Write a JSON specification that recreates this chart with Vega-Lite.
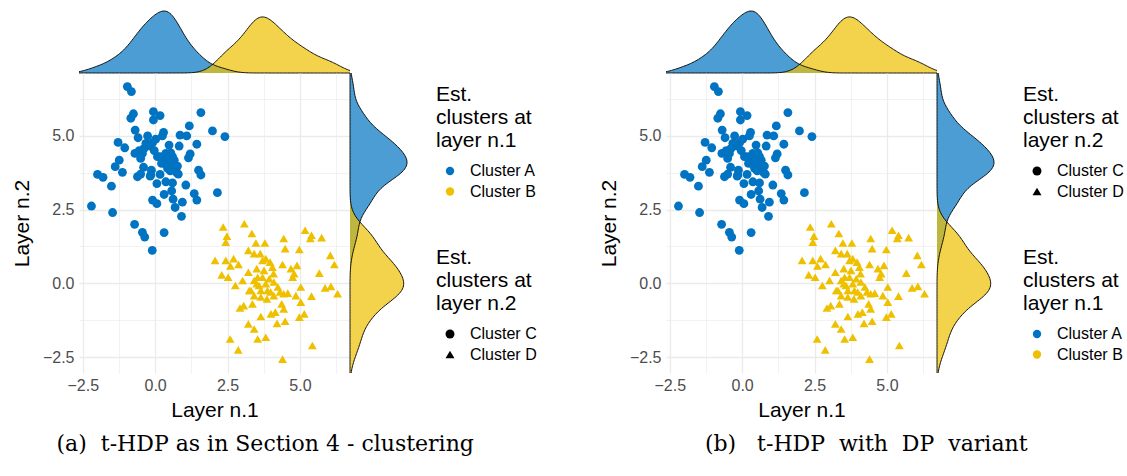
{
  "$schema": "https://vega.github.io/schema/vega-lite/v6.json",
  "padding": {"left": 11, "top": 9, "right": 2, "bottom": 4},
  "datasets": {
    "pts": [
      {"x": -0.96, "y": 6.66, "l1": "Cluster A", "l2": "Cluster C"},
      {"x": -0.82, "y": 6.49, "l1": "Cluster A", "l2": "Cluster C"},
      {"x": -0.75, "y": 5.74, "l1": "Cluster A", "l2": "Cluster C"},
      {"x": -0.84, "y": 5.59, "l1": "Cluster A", "l2": "Cluster C"},
      {"x": -0.06, "y": 5.81, "l1": "Cluster A", "l2": "Cluster C"},
      {"x": 0.17, "y": 5.68, "l1": "Cluster A", "l2": "Cluster C"},
      {"x": -0.06, "y": 5.53, "l1": "Cluster A", "l2": "Cluster C"},
      {"x": 1.58, "y": 5.78, "l1": "Cluster A", "l2": "Cluster C"},
      {"x": 1.18, "y": 5.33, "l1": "Cluster A", "l2": "Cluster C"},
      {"x": 0.86, "y": 5.02, "l1": "Cluster A", "l2": "Cluster C"},
      {"x": 1.09, "y": 4.99, "l1": "Cluster A", "l2": "Cluster C"},
      {"x": 1.98, "y": 5.16, "l1": "Cluster A", "l2": "Cluster C"},
      {"x": 2.41, "y": 4.97, "l1": "Cluster A", "l2": "Cluster C"},
      {"x": -0.69, "y": 5.19, "l1": "Cluster A", "l2": "Cluster C"},
      {"x": -0.59, "y": 4.93, "l1": "Cluster A", "l2": "Cluster C"},
      {"x": -0.26, "y": 4.99, "l1": "Cluster A", "l2": "Cluster C"},
      {"x": 0.29, "y": 5.11, "l1": "Cluster A", "l2": "Cluster C"},
      {"x": 0.25, "y": 4.99, "l1": "Cluster A", "l2": "Cluster C"},
      {"x": 0.02, "y": 4.88, "l1": "Cluster A", "l2": "Cluster C"},
      {"x": -1.28, "y": 4.77, "l1": "Cluster A", "l2": "Cluster C"},
      {"x": -1.05, "y": 4.59, "l1": "Cluster A", "l2": "Cluster C"},
      {"x": -0.38, "y": 4.57, "l1": "Cluster A", "l2": "Cluster C"},
      {"x": -0.17, "y": 4.65, "l1": "Cluster A", "l2": "Cluster C"},
      {"x": -0.09, "y": 4.76, "l1": "Cluster A", "l2": "Cluster C"},
      {"x": 0.48, "y": 4.68, "l1": "Cluster A", "l2": "Cluster C"},
      {"x": 0.83, "y": 4.65, "l1": "Cluster A", "l2": "Cluster C"},
      {"x": 1.44, "y": 4.71, "l1": "Cluster A", "l2": "Cluster C"},
      {"x": -0.70, "y": 4.40, "l1": "Cluster A", "l2": "Cluster C"},
      {"x": -0.50, "y": 4.23, "l1": "Cluster A", "l2": "Cluster C"},
      {"x": 0.17, "y": 4.29, "l1": "Cluster A", "l2": "Cluster C"},
      {"x": 0.37, "y": 4.40, "l1": "Cluster A", "l2": "Cluster C"},
      {"x": 0.60, "y": 4.29, "l1": "Cluster A", "l2": "Cluster C"},
      {"x": 1.21, "y": 4.38, "l1": "Cluster A", "l2": "Cluster C"},
      {"x": 1.15, "y": 4.25, "l1": "Cluster A", "l2": "Cluster C"},
      {"x": -1.24, "y": 4.17, "l1": "Cluster A", "l2": "Cluster C"},
      {"x": -1.38, "y": 3.95, "l1": "Cluster A", "l2": "Cluster C"},
      {"x": -1.13, "y": 3.76, "l1": "Cluster A", "l2": "Cluster C"},
      {"x": -0.40, "y": 3.93, "l1": "Cluster A", "l2": "Cluster C"},
      {"x": -0.13, "y": 3.83, "l1": "Cluster A", "l2": "Cluster C"},
      {"x": 0.31, "y": 4.12, "l1": "Cluster A", "l2": "Cluster C"},
      {"x": 0.48, "y": 4.00, "l1": "Cluster A", "l2": "Cluster C"},
      {"x": 0.66, "y": 4.17, "l1": "Cluster A", "l2": "Cluster C"},
      {"x": 0.77, "y": 3.97, "l1": "Cluster A", "l2": "Cluster C"},
      {"x": 0.52, "y": 3.81, "l1": "Cluster A", "l2": "Cluster C"},
      {"x": 0.75, "y": 3.74, "l1": "Cluster A", "l2": "Cluster C"},
      {"x": -1.99, "y": 3.69, "l1": "Cluster A", "l2": "Cluster C"},
      {"x": -1.80, "y": 3.59, "l1": "Cluster A", "l2": "Cluster C"},
      {"x": -1.51, "y": 3.29, "l1": "Cluster A", "l2": "Cluster C"},
      {"x": -0.61, "y": 3.61, "l1": "Cluster A", "l2": "Cluster C"},
      {"x": -0.50, "y": 3.70, "l1": "Cluster A", "l2": "Cluster C"},
      {"x": -0.15, "y": 3.67, "l1": "Cluster A", "l2": "Cluster C"},
      {"x": 0.17, "y": 3.69, "l1": "Cluster A", "l2": "Cluster C"},
      {"x": 0.06, "y": 3.38, "l1": "Cluster A", "l2": "Cluster C"},
      {"x": 0.37, "y": 3.44, "l1": "Cluster A", "l2": "Cluster C"},
      {"x": 0.60, "y": 3.40, "l1": "Cluster A", "l2": "Cluster C"},
      {"x": 1.50, "y": 3.83, "l1": "Cluster A", "l2": "Cluster C"},
      {"x": 1.58, "y": 3.67, "l1": "Cluster A", "l2": "Cluster C"},
      {"x": 1.06, "y": 3.33, "l1": "Cluster A", "l2": "Cluster C"},
      {"x": 0.57, "y": 3.13, "l1": "Cluster A", "l2": "Cluster C"},
      {"x": 0.31, "y": 3.01, "l1": "Cluster A", "l2": "Cluster C"},
      {"x": 1.35, "y": 3.04, "l1": "Cluster A", "l2": "Cluster C"},
      {"x": 1.44, "y": 2.82, "l1": "Cluster A", "l2": "Cluster C"},
      {"x": 2.15, "y": 3.07, "l1": "Cluster A", "l2": "Cluster C"},
      {"x": -2.20, "y": 2.62, "l1": "Cluster A", "l2": "Cluster C"},
      {"x": -0.09, "y": 2.82, "l1": "Cluster A", "l2": "Cluster C"},
      {"x": 0.06, "y": 2.70, "l1": "Cluster A", "l2": "Cluster C"},
      {"x": 0.62, "y": 2.85, "l1": "Cluster A", "l2": "Cluster C"},
      {"x": 0.94, "y": 2.75, "l1": "Cluster A", "l2": "Cluster C"},
      {"x": 0.69, "y": 2.57, "l1": "Cluster A", "l2": "Cluster C"},
      {"x": -1.47, "y": 2.40, "l1": "Cluster A", "l2": "Cluster C"},
      {"x": 0.91, "y": 2.27, "l1": "Cluster A", "l2": "Cluster C"},
      {"x": -0.71, "y": 2.00, "l1": "Cluster A", "l2": "Cluster C"},
      {"x": -0.44, "y": 1.73, "l1": "Cluster A", "l2": "Cluster C"},
      {"x": -0.36, "y": 1.57, "l1": "Cluster A", "l2": "Cluster C"},
      {"x": 0.31, "y": 1.72, "l1": "Cluster A", "l2": "Cluster C"},
      {"x": -0.10, "y": 1.12, "l1": "Cluster A", "l2": "Cluster C"},
      {"x": 0.43, "y": 4.23, "l1": "Cluster A", "l2": "Cluster C"},
      {"x": 0.54, "y": 4.12, "l1": "Cluster A", "l2": "Cluster C"},
      {"x": 0.60, "y": 3.95, "l1": "Cluster A", "l2": "Cluster C"},
      {"x": 0.43, "y": 3.89, "l1": "Cluster A", "l2": "Cluster C"},
      {"x": 0.66, "y": 4.04, "l1": "Cluster A", "l2": "Cluster C"},
      {"x": 0.37, "y": 4.04, "l1": "Cluster A", "l2": "Cluster C"},
      {"x": 0.54, "y": 4.42, "l1": "Cluster A", "l2": "Cluster C"},
      {"x": 0.22, "y": 4.06, "l1": "Cluster A", "l2": "Cluster C"},
      {"x": 0.08, "y": 4.29, "l1": "Cluster A", "l2": "Cluster C"},
      {"x": -0.03, "y": 4.49, "l1": "Cluster A", "l2": "Cluster C"},
      {"x": -0.32, "y": 4.74, "l1": "Cluster A", "l2": "Cluster C"},
      {"x": -0.44, "y": 4.40, "l1": "Cluster A", "l2": "Cluster C"},
      {"x": 0.80, "y": 3.70, "l1": "Cluster A", "l2": "Cluster C"},
      {"x": -0.17, "y": 3.63, "l1": "Cluster A", "l2": "Cluster C"},
      {"x": -0.55, "y": 4.49, "l1": "Cluster A", "l2": "Cluster C"},
      {"x": 2.35, "y": 1.91, "l1": "Cluster B", "l2": "Cluster D"},
      {"x": 3.08, "y": 2.02, "l1": "Cluster B", "l2": "Cluster D"},
      {"x": 2.48, "y": 1.60, "l1": "Cluster B", "l2": "Cluster D"},
      {"x": 2.44, "y": 1.40, "l1": "Cluster B", "l2": "Cluster D"},
      {"x": 3.34, "y": 1.69, "l1": "Cluster B", "l2": "Cluster D"},
      {"x": 3.48, "y": 1.37, "l1": "Cluster B", "l2": "Cluster D"},
      {"x": 3.79, "y": 1.37, "l1": "Cluster B", "l2": "Cluster D"},
      {"x": 4.44, "y": 1.52, "l1": "Cluster B", "l2": "Cluster D"},
      {"x": 4.49, "y": 1.18, "l1": "Cluster B", "l2": "Cluster D"},
      {"x": 5.18, "y": 1.80, "l1": "Cluster B", "l2": "Cluster D"},
      {"x": 5.40, "y": 1.63, "l1": "Cluster B", "l2": "Cluster D"},
      {"x": 5.36, "y": 1.52, "l1": "Cluster B", "l2": "Cluster D"},
      {"x": 5.75, "y": 1.55, "l1": "Cluster B", "l2": "Cluster D"},
      {"x": 4.98, "y": 1.15, "l1": "Cluster B", "l2": "Cluster D"},
      {"x": 6.05, "y": 0.95, "l1": "Cluster B", "l2": "Cluster D"},
      {"x": 6.19, "y": 0.64, "l1": "Cluster B", "l2": "Cluster D"},
      {"x": 5.67, "y": 0.35, "l1": "Cluster B", "l2": "Cluster D"},
      {"x": 5.87, "y": -0.15, "l1": "Cluster B", "l2": "Cluster D"},
      {"x": 6.07, "y": -0.10, "l1": "Cluster B", "l2": "Cluster D"},
      {"x": 6.30, "y": -0.35, "l1": "Cluster B", "l2": "Cluster D"},
      {"x": 5.40, "y": -0.43, "l1": "Cluster B", "l2": "Cluster D"},
      {"x": 2.07, "y": 0.78, "l1": "Cluster B", "l2": "Cluster D"},
      {"x": 2.44, "y": 0.78, "l1": "Cluster B", "l2": "Cluster D"},
      {"x": 2.71, "y": 0.84, "l1": "Cluster B", "l2": "Cluster D"},
      {"x": 2.88, "y": 0.64, "l1": "Cluster B", "l2": "Cluster D"},
      {"x": 2.60, "y": 0.59, "l1": "Cluster B", "l2": "Cluster D"},
      {"x": 2.30, "y": 0.29, "l1": "Cluster B", "l2": "Cluster D"},
      {"x": 2.52, "y": 0.21, "l1": "Cluster B", "l2": "Cluster D"},
      {"x": 3.22, "y": 1.12, "l1": "Cluster B", "l2": "Cluster D"},
      {"x": 3.42, "y": 1.01, "l1": "Cluster B", "l2": "Cluster D"},
      {"x": 3.63, "y": 1.01, "l1": "Cluster B", "l2": "Cluster D"},
      {"x": 3.71, "y": 0.78, "l1": "Cluster B", "l2": "Cluster D"},
      {"x": 3.97, "y": 0.72, "l1": "Cluster B", "l2": "Cluster D"},
      {"x": 3.22, "y": 0.38, "l1": "Cluster B", "l2": "Cluster D"},
      {"x": 3.51, "y": 0.50, "l1": "Cluster B", "l2": "Cluster D"},
      {"x": 3.76, "y": 0.44, "l1": "Cluster B", "l2": "Cluster D"},
      {"x": 4.09, "y": 0.33, "l1": "Cluster B", "l2": "Cluster D"},
      {"x": 4.40, "y": 0.64, "l1": "Cluster B", "l2": "Cluster D"},
      {"x": 4.69, "y": 0.50, "l1": "Cluster B", "l2": "Cluster D"},
      {"x": 4.90, "y": 0.61, "l1": "Cluster B", "l2": "Cluster D"},
      {"x": 4.75, "y": 0.21, "l1": "Cluster B", "l2": "Cluster D"},
      {"x": 4.80, "y": 0.33, "l1": "Cluster B", "l2": "Cluster D"},
      {"x": 2.77, "y": -0.07, "l1": "Cluster B", "l2": "Cluster D"},
      {"x": 3.02, "y": 0.10, "l1": "Cluster B", "l2": "Cluster D"},
      {"x": 3.42, "y": 0.10, "l1": "Cluster B", "l2": "Cluster D"},
      {"x": 3.59, "y": -0.07, "l1": "Cluster B", "l2": "Cluster D"},
      {"x": 3.82, "y": -0.01, "l1": "Cluster B", "l2": "Cluster D"},
      {"x": 4.10, "y": 0.05, "l1": "Cluster B", "l2": "Cluster D"},
      {"x": 4.31, "y": -0.29, "l1": "Cluster B", "l2": "Cluster D"},
      {"x": 4.58, "y": -0.33, "l1": "Cluster B", "l2": "Cluster D"},
      {"x": 5.03, "y": -0.12, "l1": "Cluster B", "l2": "Cluster D"},
      {"x": 4.86, "y": -0.41, "l1": "Cluster B", "l2": "Cluster D"},
      {"x": 5.03, "y": -0.63, "l1": "Cluster B", "l2": "Cluster D"},
      {"x": 3.31, "y": -0.24, "l1": "Cluster B", "l2": "Cluster D"},
      {"x": 3.42, "y": -0.41, "l1": "Cluster B", "l2": "Cluster D"},
      {"x": 3.65, "y": -0.46, "l1": "Cluster B", "l2": "Cluster D"},
      {"x": 3.86, "y": -0.52, "l1": "Cluster B", "l2": "Cluster D"},
      {"x": 3.99, "y": -0.29, "l1": "Cluster B", "l2": "Cluster D"},
      {"x": 3.36, "y": -0.69, "l1": "Cluster B", "l2": "Cluster D"},
      {"x": 2.93, "y": -0.83, "l1": "Cluster B", "l2": "Cluster D"},
      {"x": 3.06, "y": -0.75, "l1": "Cluster B", "l2": "Cluster D"},
      {"x": 4.37, "y": -0.69, "l1": "Cluster B", "l2": "Cluster D"},
      {"x": 4.44, "y": -0.86, "l1": "Cluster B", "l2": "Cluster D"},
      {"x": 4.15, "y": -0.97, "l1": "Cluster B", "l2": "Cluster D"},
      {"x": 4.00, "y": -1.03, "l1": "Cluster B", "l2": "Cluster D"},
      {"x": 3.65, "y": -1.12, "l1": "Cluster B", "l2": "Cluster D"},
      {"x": 5.15, "y": -1.03, "l1": "Cluster B", "l2": "Cluster D"},
      {"x": 4.98, "y": -1.14, "l1": "Cluster B", "l2": "Cluster D"},
      {"x": 4.21, "y": -1.35, "l1": "Cluster B", "l2": "Cluster D"},
      {"x": 4.49, "y": -1.28, "l1": "Cluster B", "l2": "Cluster D"},
      {"x": 3.22, "y": -1.37, "l1": "Cluster B", "l2": "Cluster D"},
      {"x": 3.42, "y": -1.54, "l1": "Cluster B", "l2": "Cluster D"},
      {"x": 3.54, "y": -1.88, "l1": "Cluster B", "l2": "Cluster D"},
      {"x": 3.82, "y": -1.82, "l1": "Cluster B", "l2": "Cluster D"},
      {"x": 2.59, "y": -1.88, "l1": "Cluster B", "l2": "Cluster D"},
      {"x": 2.87, "y": -2.25, "l1": "Cluster B", "l2": "Cluster D"},
      {"x": 5.43, "y": -2.10, "l1": "Cluster B", "l2": "Cluster D"},
      {"x": 4.40, "y": -2.56, "l1": "Cluster B", "l2": "Cluster D"},
      {"x": 3.71, "y": 0.21, "l1": "Cluster B", "l2": "Cluster D"},
      {"x": 3.88, "y": -0.24, "l1": "Cluster B", "l2": "Cluster D"},
      {"x": 3.54, "y": 0.21, "l1": "Cluster B", "l2": "Cluster D"},
      {"x": 3.94, "y": 0.16, "l1": "Cluster B", "l2": "Cluster D"},
      {"x": 3.65, "y": -0.24, "l1": "Cluster B", "l2": "Cluster D"},
      {"x": 4.05, "y": 0.55, "l1": "Cluster B", "l2": "Cluster D"},
      {"x": 3.82, "y": 0.84, "l1": "Cluster B", "l2": "Cluster D"},
      {"x": 4.44, "y": -0.35, "l1": "Cluster B", "l2": "Cluster D"},
      {"x": 4.24, "y": -0.12, "l1": "Cluster B", "l2": "Cluster D"},
      {"x": 3.25, "y": -0.24, "l1": "Cluster B", "l2": "Cluster D"},
      {"x": 3.51, "y": -0.01, "l1": "Cluster B", "l2": "Cluster D"},
      {"x": 4.10, "y": -0.41, "l1": "Cluster B", "l2": "Cluster D"}
    ]
  },
  "spacing": 61,
  "hconcat": [
    {
      "title": {"text": "(a)\u00a0\u00a0t-HDP as in Section 4 - clustering", "orient": "bottom", "anchor": "middle", "frame": "bounds", "font": "DejaVu Serif", "fontSize": 22, "fontWeight": "normal", "color": "black", "offset": 14, "dx": -9},
      "columns": 2,
      "spacing": 0,
      "bounds": "flush",
      "concat": [
        {
          "width": 271, "height": 62,
          "data": {"name": "pts"},
          "transform": [{"density": "x", "groupby": ["l1"], "extent": [-2.63, 6.73], "steps": 200, "as": ["v", "d"]}],
          "layer": [
            {"mark": {"type": "area", "fillOpacity": 0.7},
             "encoding": {
               "x": {"field": "v", "type": "quantitative", "scale": {"domain": [-2.63, 6.73], "nice": false, "zero": false}, "axis": null},
               "y": {"field": "d", "type": "quantitative", "stack": null, "scale": {"nice": false, "zero": true}, "axis": null},
               "color": {"field": "l1", "type": "nominal", "scale": {"domain": ["Cluster A", "Cluster B"], "range": ["#0073C2", "#EFC000"]},
                         "legend": {"orient": "none", "legendX": 357, "legendY": 73, "title": ["Est.", "clusters at", "layer n.1"], "symbolType": "circle", "symbolSize": 70, "symbolOpacity": 1}}
             }},
            {"mark": {"type": "line", "color": "black", "strokeWidth": 0.9},
             "encoding": {
               "x": {"field": "v", "type": "quantitative", "scale": {"domain": [-2.63, 6.73], "nice": false, "zero": false}, "axis": null},
               "y": {"field": "d", "type": "quantitative", "scale": {"nice": false, "zero": true}, "axis": null},
               "detail": {"field": "l1", "type": "nominal"}
             }}
          ]
        },
        {
          "width": 57, "height": 62,
          "data": {"values": [{"a": 1}]},
          "mark": {"type": "point", "opacity": 0},
          "encoding": {}
        },
        {
          "width": 271, "height": 300,
          "data": {"name": "pts"},
          "mark": {"type": "point", "filled": true, "opacity": 1, "strokeWidth": 0, "size": 78},
          "encoding": {
            "x": {"field": "x", "type": "quantitative", "scale": {"domain": [-2.63, 6.73], "nice": false, "zero": false},
                  "axis": {"values": [-2.5, -1.25, 0, 1.25, 2.5, 3.75, 5, 6.25], "labelExpr": "datum.value % 2.5 === 0 ? format(datum.value, '.1f') : ''", "ticks": false, "domain": false, "grid": true, "gridColor": "#EBEBEB", "gridWidth": {"condition": {"test": "datum.value % 2.5 === 0", "value": 1.3}, "value": 0.65}, "labelFontSize": 16, "labelColor": "#4D4D4D", "labelPadding": 4, "labelFlush": false, "labelOverlap": false, "title": "Layer n.1", "titleFontSize": 21, "titleFontWeight": "normal", "titleColor": "black", "titlePadding": 6}},
            "y": {"field": "y", "type": "quantitative", "scale": {"domain": [-3.03, 7.12], "nice": false, "zero": false},
                  "axis": {"values": [-2.5, -1.25, 0, 1.25, 2.5, 3.75, 5, 6.25], "labelExpr": "datum.value % 2.5 === 0 ? format(datum.value, '.1f') : ''", "ticks": false, "domain": false, "grid": true, "gridColor": "#EBEBEB", "gridWidth": {"condition": {"test": "datum.value % 2.5 === 0", "value": 1.3}, "value": 0.65}, "labelFontSize": 16, "labelColor": "#4D4D4D", "labelPadding": 5, "labelFlush": false, "labelOverlap": false, "title": "Layer n.2", "titleFontSize": 21, "titleFontWeight": "normal", "titleColor": "black", "titlePadding": 10}},
            "color": {"field": "l1", "type": "nominal", "scale": {"domain": ["Cluster A", "Cluster B"], "range": ["#0073C2", "#EFC000"]},
                      "legend": {"orient": "none", "legendX": 357, "legendY": 73, "title": ["Est.", "clusters at", "layer n.1"], "symbolType": "circle", "symbolSize": 70, "symbolOpacity": 1}},
            "shape": {"field": "l2", "type": "nominal", "scale": {"domain": ["Cluster C", "Cluster D"], "range": ["circle", "triangle-up"]},
                      "legend": {"orient": "none", "legendX": 357, "legendY": 236, "title": ["Est.", "clusters at", "layer n.2"], "symbolFillColor": "black", "symbolSize": 80, "symbolOpacity": 1}}
          }
        },
        {
          "width": 57, "height": 300,
          "data": {"name": "pts"},
          "transform": [{"density": "y", "groupby": ["l1"], "extent": [-3.03, 7.12], "steps": 200, "as": ["v", "d"]}],
          "layer": [
            {"mark": {"type": "area", "orient": "horizontal", "fillOpacity": 0.7},
             "encoding": {
               "y": {"field": "v", "type": "quantitative", "scale": {"domain": [-3.03, 7.12], "nice": false, "zero": false}, "axis": null},
               "x": {"field": "d", "type": "quantitative", "stack": null, "scale": {"nice": false, "zero": true}, "axis": null},
               "color": {"field": "l1", "type": "nominal", "scale": {"domain": ["Cluster A", "Cluster B"], "range": ["#0073C2", "#EFC000"]},
                         "legend": {"orient": "none", "legendX": 357, "legendY": 73, "title": ["Est.", "clusters at", "layer n.1"], "symbolType": "circle", "symbolSize": 70, "symbolOpacity": 1}}
             }},
            {"mark": {"type": "line", "color": "black", "strokeWidth": 0.9},
             "encoding": {
               "y": {"field": "v", "type": "quantitative", "scale": {"domain": [-3.03, 7.12], "nice": false, "zero": false}, "axis": null},
               "x": {"field": "d", "type": "quantitative", "scale": {"nice": false, "zero": true}, "axis": null},
               "order": {"field": "v", "type": "quantitative"},
               "detail": {"field": "l1", "type": "nominal"}
             }}
          ]
        }
      ]
    },
    {
      "title": {"text": "(b)\u00a0\u00a0\u00a0t-HDP\u00a0 with\u00a0 DP\u00a0 variant", "orient": "bottom", "anchor": "middle", "frame": "bounds", "font": "DejaVu Serif", "fontSize": 22, "fontWeight": "normal", "color": "black", "offset": 14, "dx": 5},
      "columns": 2,
      "spacing": 0,
      "bounds": "flush",
      "concat": [
        {
          "width": 271, "height": 62,
          "data": {"name": "pts"},
          "transform": [{"density": "x", "groupby": ["l1"], "extent": [-2.63, 6.73], "steps": 200, "as": ["v", "d"]}],
          "layer": [
            {"mark": {"type": "area", "fillOpacity": 0.7},
             "encoding": {
               "x": {"field": "v", "type": "quantitative", "scale": {"domain": [-2.63, 6.73], "nice": false, "zero": false}, "axis": null},
               "y": {"field": "d", "type": "quantitative", "stack": null, "scale": {"nice": false, "zero": true}, "axis": null},
               "color": {"field": "l1", "type": "nominal", "scale": {"domain": ["Cluster A", "Cluster B"], "range": ["#0073C2", "#EFC000"]},
                         "legend": {"orient": "none", "legendX": 357, "legendY": 236, "title": ["Est.", "clusters at", "layer n.1"], "symbolType": "circle", "symbolSize": 70, "symbolOpacity": 1}}
             }},
            {"mark": {"type": "line", "color": "black", "strokeWidth": 0.9},
             "encoding": {
               "x": {"field": "v", "type": "quantitative", "scale": {"domain": [-2.63, 6.73], "nice": false, "zero": false}, "axis": null},
               "y": {"field": "d", "type": "quantitative", "scale": {"nice": false, "zero": true}, "axis": null},
               "detail": {"field": "l1", "type": "nominal"}
             }}
          ]
        },
        {
          "width": 57, "height": 62,
          "data": {"values": [{"a": 1}]},
          "mark": {"type": "point", "opacity": 0},
          "encoding": {}
        },
        {
          "width": 271, "height": 300,
          "data": {"name": "pts"},
          "mark": {"type": "point", "filled": true, "opacity": 1, "strokeWidth": 0, "size": 78},
          "encoding": {
            "x": {"field": "x", "type": "quantitative", "scale": {"domain": [-2.63, 6.73], "nice": false, "zero": false},
                  "axis": {"values": [-2.5, -1.25, 0, 1.25, 2.5, 3.75, 5, 6.25], "labelExpr": "datum.value % 2.5 === 0 ? format(datum.value, '.1f') : ''", "ticks": false, "domain": false, "grid": true, "gridColor": "#EBEBEB", "gridWidth": {"condition": {"test": "datum.value % 2.5 === 0", "value": 1.3}, "value": 0.65}, "labelFontSize": 16, "labelColor": "#4D4D4D", "labelPadding": 4, "labelFlush": false, "labelOverlap": false, "title": "Layer n.1", "titleFontSize": 21, "titleFontWeight": "normal", "titleColor": "black", "titlePadding": 6}},
            "y": {"field": "y", "type": "quantitative", "scale": {"domain": [-3.03, 7.12], "nice": false, "zero": false},
                  "axis": {"values": [-2.5, -1.25, 0, 1.25, 2.5, 3.75, 5, 6.25], "labelExpr": "datum.value % 2.5 === 0 ? format(datum.value, '.1f') : ''", "ticks": false, "domain": false, "grid": true, "gridColor": "#EBEBEB", "gridWidth": {"condition": {"test": "datum.value % 2.5 === 0", "value": 1.3}, "value": 0.65}, "labelFontSize": 16, "labelColor": "#4D4D4D", "labelPadding": 5, "labelFlush": false, "labelOverlap": false, "title": "Layer n.2", "titleFontSize": 21, "titleFontWeight": "normal", "titleColor": "black", "titlePadding": 10}},
            "color": {"field": "l1", "type": "nominal", "scale": {"domain": ["Cluster A", "Cluster B"], "range": ["#0073C2", "#EFC000"]},
                      "legend": {"orient": "none", "legendX": 357, "legendY": 236, "title": ["Est.", "clusters at", "layer n.1"], "symbolType": "circle", "symbolSize": 70, "symbolOpacity": 1}},
            "shape": {"field": "l2", "type": "nominal", "scale": {"domain": ["Cluster C", "Cluster D"], "range": ["circle", "triangle-up"]},
                      "legend": {"orient": "none", "legendX": 357, "legendY": 73, "title": ["Est.", "clusters at", "layer n.2"], "symbolFillColor": "black", "symbolSize": 80, "symbolOpacity": 1}}
          }
        },
        {
          "width": 57, "height": 300,
          "data": {"name": "pts"},
          "transform": [{"density": "y", "groupby": ["l1"], "extent": [-3.03, 7.12], "steps": 200, "as": ["v", "d"]}],
          "layer": [
            {"mark": {"type": "area", "orient": "horizontal", "fillOpacity": 0.7},
             "encoding": {
               "y": {"field": "v", "type": "quantitative", "scale": {"domain": [-3.03, 7.12], "nice": false, "zero": false}, "axis": null},
               "x": {"field": "d", "type": "quantitative", "stack": null, "scale": {"nice": false, "zero": true}, "axis": null},
               "color": {"field": "l1", "type": "nominal", "scale": {"domain": ["Cluster A", "Cluster B"], "range": ["#0073C2", "#EFC000"]},
                         "legend": {"orient": "none", "legendX": 357, "legendY": 236, "title": ["Est.", "clusters at", "layer n.1"], "symbolType": "circle", "symbolSize": 70, "symbolOpacity": 1}}
             }},
            {"mark": {"type": "line", "color": "black", "strokeWidth": 0.9},
             "encoding": {
               "y": {"field": "v", "type": "quantitative", "scale": {"domain": [-3.03, 7.12], "nice": false, "zero": false}, "axis": null},
               "x": {"field": "d", "type": "quantitative", "scale": {"nice": false, "zero": true}, "axis": null},
               "order": {"field": "v", "type": "quantitative"},
               "detail": {"field": "l1", "type": "nominal"}
             }}
          ]
        }
      ]
    }
  ],
  "resolve": {
    "scale": {"color": "independent", "shape": "independent"},
    "legend": {"color": "independent", "shape": "independent"}
  },
  "config": {
    "font": "Liberation Sans",
    "view": {"stroke": null},
    "axis": {"labelFont": "Liberation Sans", "titleFont": "Liberation Sans"},
    "legend": {
      "titleFont": "Liberation Sans", "titleFontSize": 21, "titleFontWeight": "normal", "titleColor": "black",
      "titleLineHeight": 23, "titlePadding": 12,
      "labelFont": "Liberation Sans", "labelFontSize": 16, "labelColor": "black",
      "rowPadding": 4.5, "symbolOffset": 6, "labelOffset": 12, "padding": 0, "symbolStrokeWidth": 0, "symbolOpacity": 1
    }
  }
}
